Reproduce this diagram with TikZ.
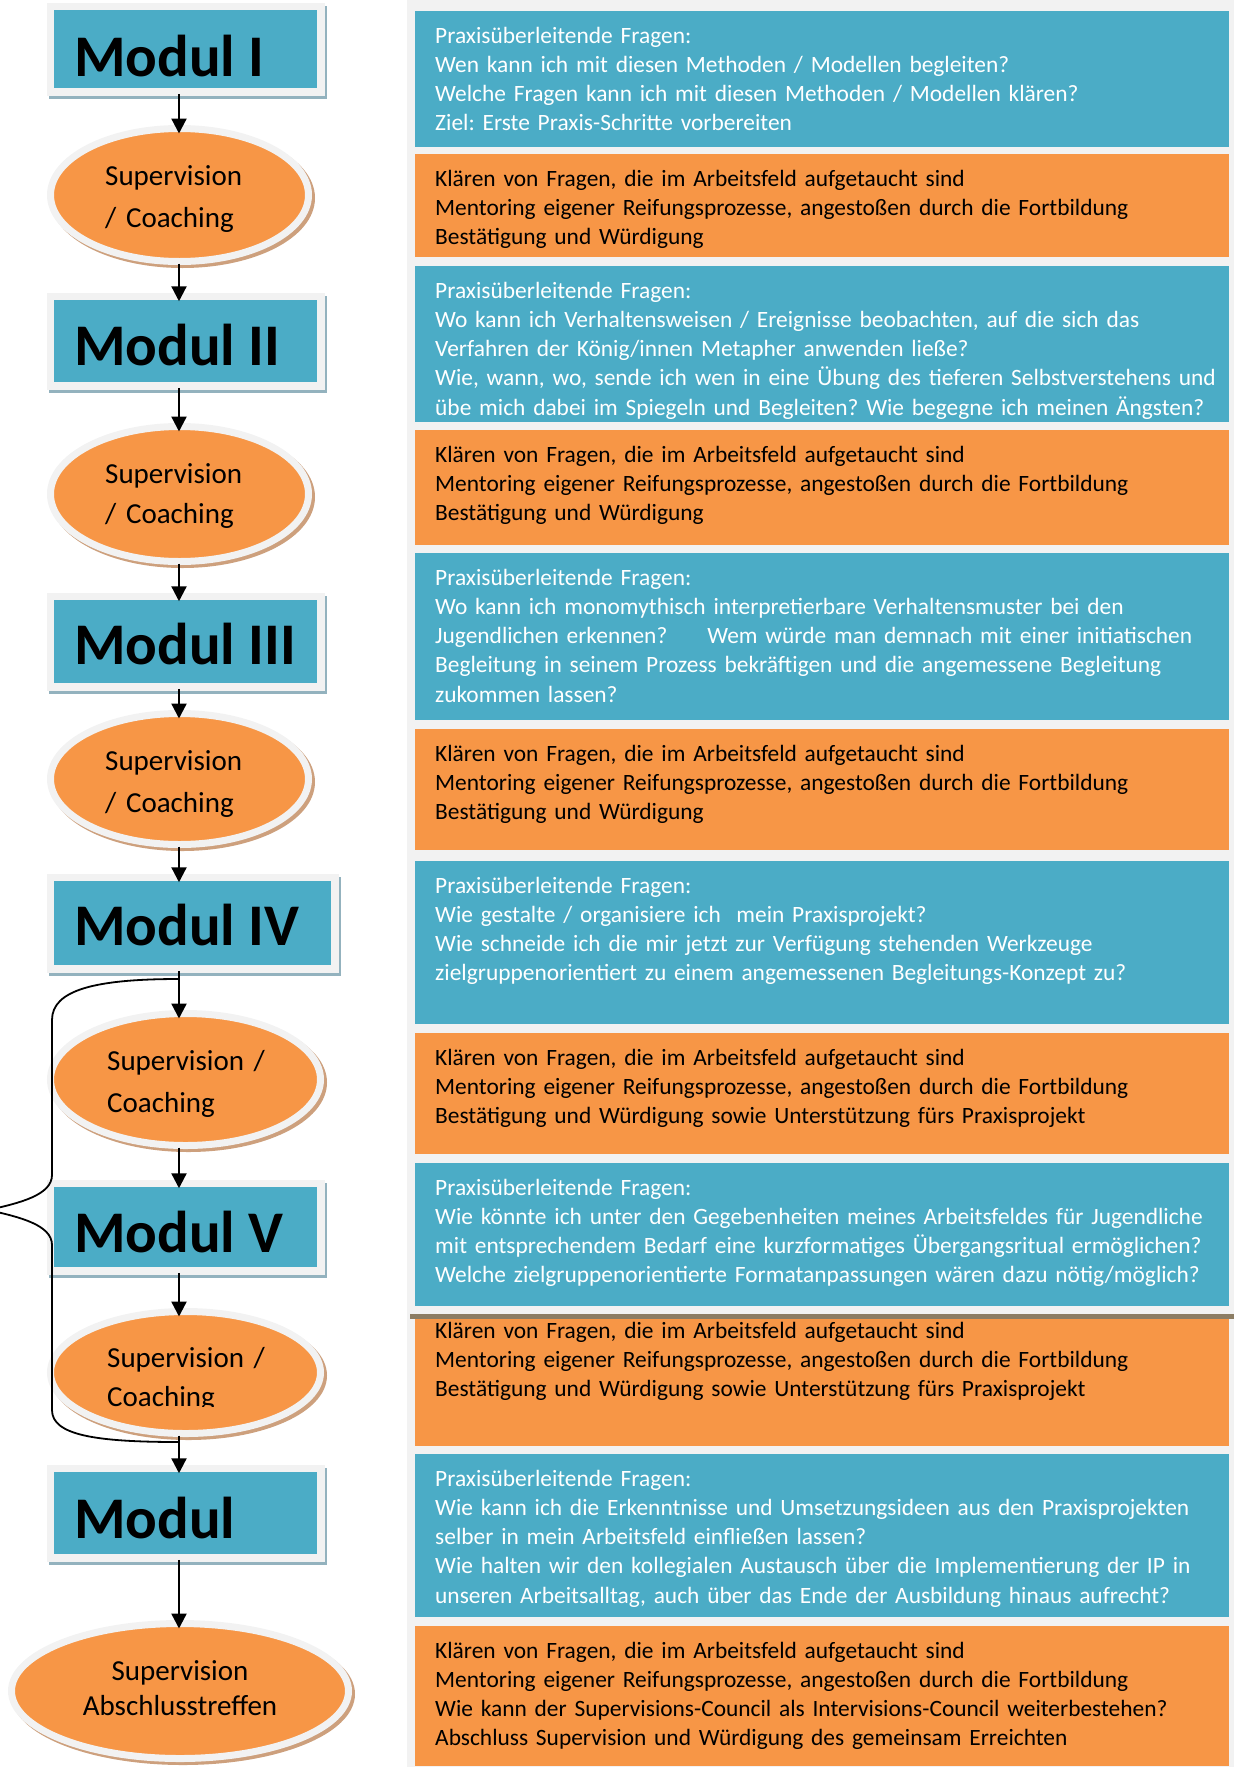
\documentclass[tikz,border=0pt]{standalone}
\usepackage{fontspec}
\setmainfont{Carlito}
\frenchspacing
\usetikzlibrary{shapes.geometric,arrows.meta,positioning}
\definecolor{modblue}{RGB}{75,172,198}
\definecolor{suporange}{RGB}{247,150,70}
\definecolor{framegray}{RGB}{242,242,242}
\definecolor{modshadow}{RGB}{147,178,190}
\definecolor{supshadow}{RGB}{205,160,125}
\definecolor{seamline}{RGB}{140,125,100}
\tikzset{
  modbox/.style={rectangle,fill=modblue,draw=framegray,line width=7.5pt,outer sep=0pt,inner sep=0pt,
    preaction={draw=modshadow,line width=7.5pt,transform canvas={shift={(2.5pt,-3pt)}}}},
  modlabel/.style={anchor=base west,inner sep=0pt,font=\fontsize{59}{62}\selectfont\bfseries},
  supell/.style={ellipse,fill=suporange,draw=framegray,line width=7pt,outer sep=0pt,inner sep=0pt,
    preaction={draw=supshadow,line width=7pt,transform canvas={shift={(3pt,-3pt)}}}},
  suptext/.style={anchor=base west,inner sep=0pt,text width=200pt,align=left},
  qbox/.style={rectangle,anchor=north west,inner sep=0pt,outer sep=0pt,minimum width=814pt},
  qtext/.style={anchor=base west,inner sep=0pt,text width=800pt,align=left,font=\fontsize{23.4}{29.3}\selectfont},
  arr/.style={line width=2.3pt,-{Triangle[width=15pt,length=15pt]},shorten <=2pt,shorten >=-5pt},
  brace/.style={line width=1.8pt,line cap=round}
}
\begin{document}
\begin{tikzpicture}[x=1pt,y=-1pt]
  \useasboundingbox (0,0) rectangle (1234,1767);
  \fill[framegray] (407,0) rectangle (1234,1767);
  \node[qbox,fill=modblue,minimum height=136pt] (b1) at (415,11) {};
  \node[qbox,fill=suporange,minimum height=103pt] (o1) at (415,154) {};
  \node[qbox,fill=modblue,minimum height=156pt] (b2) at (415,266) {};
  \node[qbox,fill=suporange,minimum height=115pt] (o2) at (415,430) {};
  \node[qbox,fill=modblue,minimum height=167pt] (b3) at (415,553) {};
  \node[qbox,fill=suporange,minimum height=121pt] (o3) at (415,729) {};
  \node[qbox,fill=modblue,minimum height=163pt] (b4) at (415,861) {};
  \node[qbox,fill=suporange,minimum height=121pt] (o4) at (415,1033) {};
  \node[qbox,fill=modblue,minimum height=143pt] (b5) at (415,1163) {};
  \node[qbox,fill=suporange,minimum height=127pt] (o5) at (415,1319) {};
  \node[qbox,fill=modblue,minimum height=163pt] (b6) at (415,1454) {};
  \node[qbox,fill=suporange,minimum height=140pt] (o6) at (415,1626) {};
  \fill[seamline] (410,1314) rectangle (1234,1319);
  \node[qtext,text=white] (tb1) at ([shift={(20,32)}]b1.north west) {Praxisüberleitende Fragen:\\Wen kann ich mit diesen Methoden / Modellen begleiten?\\Welche Fragen kann ich mit diesen Methoden / Modellen klären?\\Ziel: Erste Praxis-Schritte vorbereiten};
  \node[qtext] (to1) at ([shift={(20,32)}]o1.north west) {Klären von Fragen, die im Arbeitsfeld aufgetaucht sind\\Mentoring eigener Reifungsprozesse, angestoßen durch die Fortbildung\\Bestätigung und Würdigung};
  \node[qtext,text=white] (tb2) at ([shift={(20,32)}]b2.north west) {Praxisüberleitende Fragen:\\Wo kann ich Verhaltensweisen / Ereignisse beobachten, auf die sich das\\Verfahren der König/innen Metapher anwenden ließe?\\Wie, wann, wo, sende ich wen in eine Übung des tieferen Selbstverstehens und\\übe mich dabei im Spiegeln und Begleiten? Wie begegne ich meinen Ängsten?};
  \node[qtext] (to2) at ([shift={(20,32)}]o2.north west) {Klären von Fragen, die im Arbeitsfeld aufgetaucht sind\\Mentoring eigener Reifungsprozesse, angestoßen durch die Fortbildung\\Bestätigung und Würdigung};
  \node[qtext,text=white] (tb3) at ([shift={(20,32)}]b3.north west) {Praxisüberleitende Fragen:\\Wo kann ich monomythisch interpretierbare Verhaltensmuster bei den\\Jugendlichen erkennen?\hspace{40pt}Wem würde man demnach mit einer initiatischen\\Begleitung in seinem Prozess bekräftigen und die angemessene Begleitung\\zukommen lassen?};
  \node[qtext] (to3) at ([shift={(20,32)}]o3.north west) {Klären von Fragen, die im Arbeitsfeld aufgetaucht sind\\Mentoring eigener Reifungsprozesse, angestoßen durch die Fortbildung\\Bestätigung und Würdigung};
  \node[qtext,text=white] (tb4) at ([shift={(20,32)}]b4.north west) {Praxisüberleitende Fragen:\\Wie gestalte / organisiere ich\ \ mein Praxisprojekt?\\Wie schneide ich die mir jetzt zur Verfügung stehenden Werkzeuge\\zielgruppenorientiert zu einem angemessenen Begleitungs-Konzept zu?};
  \node[qtext] (to4) at ([shift={(20,32)}]o4.north west) {Klären von Fragen, die im Arbeitsfeld aufgetaucht sind\\Mentoring eigener Reifungsprozesse, angestoßen durch die Fortbildung\\Bestätigung und Würdigung sowie Unterstützung fürs Praxisprojekt};
  \node[qtext,text=white] (tb5) at ([shift={(20,32)}]b5.north west) {Praxisüberleitende Fragen:\\Wie könnte ich unter den Gegebenheiten meines Arbeitsfeldes für Jugendliche\\mit entsprechendem Bedarf eine kurzformatiges Übergangsritual ermöglichen?\\Welche zielgruppenorientierte Formatanpassungen wären dazu nötig/möglich?};
  \node[qtext] (to5) at ([shift={(20,19)}]o5.north west) {Klären von Fragen, die im Arbeitsfeld aufgetaucht sind\\Mentoring eigener Reifungsprozesse, angestoßen durch die Fortbildung\\Bestätigung und Würdigung sowie Unterstützung fürs Praxisprojekt};
  \node[qtext,text=white] (tb6) at ([shift={(20,32)}]b6.north west) {Praxisüberleitende Fragen:\\Wie kann ich die Erkenntnisse und Umsetzungsideen aus den Praxisprojekten\\selber in mein Arbeitsfeld einfließen lassen?\\Wie halten wir den kollegialen Austausch über die Implementierung der IP in\\unseren Arbeitsalltag, auch über das Ende der Ausbildung hinaus aufrecht?};
  \node[qtext] (to6) at ([shift={(20,32)}]o6.north west) {Klären von Fragen, die im Arbeitsfeld aufgetaucht sind\\Mentoring eigener Reifungsprozesse, angestoßen durch die Fortbildung\\Wie kann der Supervisions-Council als Intervisions-Council weiterbestehen?\\Abschluss Supervision und Würdigung des gemeinsam Erreichten};
  \coordinate (axis) at (179,0);
  \node[modbox,minimum width=270.5pt,minimum height=85.5pt] (m1) at (185.5,49) {};
  \node[modbox,minimum width=270.5pt,minimum height=89.5pt] (m2) at (185.5,341) {};
  \node[modbox,minimum width=270.5pt,minimum height=90.5pt] (m3) at (185.5,641.5) {};
  \node[modbox,minimum width=284.5pt,minimum height=91.5pt] (m4) at (192.5,923) {};
  \node[modbox,minimum width=270.5pt,minimum height=87.5pt] (m5) at (185.5,1227) {};
  \node[modbox,minimum width=270.5pt,minimum height=89.5pt] (m6) at (185.5,1513) {};
  \node[modlabel] (m1t) at (74,76) {Modul I};
  \node[modlabel] (m2t) at (74,365) {Modul II};
  \node[modlabel] (m3t) at (74,664) {Modul III};
  \node[modlabel] (m4t) at (74,945) {Modul IV};
  \node[modlabel] (m5t) at (74,1252) {Modul V};
  \node[modlabel] (m6t) at (74,1538) {Modul};
  \node[supell,minimum width=258pt,minimum height=133pt] (e1) at (179.5,195) {};
  \node[supell,minimum width=258pt,minimum height=135pt] (e2) at (179.5,494) {};
  \node[supell,minimum width=258pt,minimum height=131pt] (e3) at (179.5,779) {};
  \node[supell,minimum width=270pt,minimum height=132pt] (e4) at (185.5,1079.5) {};
  \node[supell,minimum width=270pt,minimum height=122pt] (e5) at (185.5,1372.5) {};
  \node[supell,minimum width=337pt,minimum height=135pt] (e6) at (180,1691) {};
  \node[suptext,font=\fontsize{29}{42}\selectfont] (e1t) at (105,185) {Supervision\\/ Coaching};
  \node[suptext,font=\fontsize{29}{40}\selectfont] (e2t) at (105,483) {Supervision\\/ Coaching};
  \node[suptext,font=\fontsize{29}{42}\selectfont] (e3t) at (105,770) {Supervision\\/ Coaching};
  \node[suptext,font=\fontsize{29}{42}\selectfont] (e4t) at (107,1070) {Supervision /\\Coaching};
  \begin{scope}
    \clip (0,1300) rectangle (400,1406);
    \node[suptext,font=\fontsize{29}{39}\selectfont] (e5t) at (107,1367) {Supervision /\\Coaching};
  \end{scope}
  \node[suptext,anchor=base,align=center,font=\fontsize{29}{35}\selectfont] (e6t) at (180,1680) {Supervision\\Abschlusstreffen};
  \draw[arr] (m1.south -| axis) -- (e1.north -| axis);
  \draw[arr] (e1.south -| axis) -- (m2.north -| axis);
  \draw[arr] (m2.south -| axis) -- (e2.north -| axis);
  \draw[arr] (e2.south -| axis) -- (m3.north -| axis);
  \draw[arr] (m3.south -| axis) -- (e3.north -| axis);
  \draw[arr] (e3.south -| axis) -- (m4.north -| axis);
  \draw[arr] (m4.south -| axis) -- (e4.north -| axis);
  \draw[arr] (e4.south -| axis) -- (m5.north -| axis);
  \draw[arr] (m5.south -| axis) -- (e5.north -| axis);
  \draw[arr] (e5.south -| axis) -- (m6.north -| axis);
  \draw[arr] (m6.south -| axis) -- (e6.north -| axis);
  \coordinate (bt) at (179,979);
  \coordinate (bb) at (179,1442);
  \draw[brace] (bt) .. controls (95,979) and (52,990) .. (52,1020) -- (52,1175)
    .. controls (52,1195) and (20,1203) .. (-12,1210)
    .. controls (20,1217) and (52,1225) .. (52,1245) -- (52,1410)
    .. controls (52,1435) and (95,1442) .. (bb);
\end{tikzpicture}
\end{document}
